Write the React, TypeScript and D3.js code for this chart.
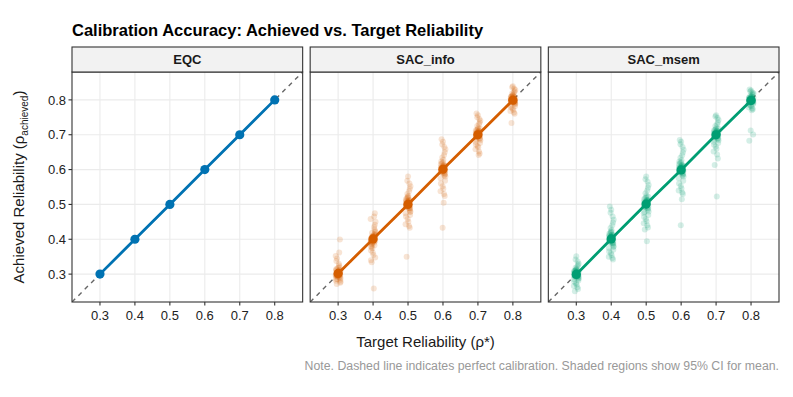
import React, { useEffect, useRef } from 'react'
import * as d3 from 'd3'

// target reliabilities (x categories)
const targets = [0.3, 0.4, 0.5, 0.6, 0.7, 0.8]
const methods = ['EQC', 'SAC_info', 'SAC_msem']
const methodColors = ['#0072B2', '#D55E00', '#009E73']
const tickValues = [0.3, 0.4, 0.5, 0.6, 0.7, 0.8]

// mean achieved reliability per target
const eqcMean = [0.300, 0.400, 0.500, 0.600, 0.700, 0.800]
const infoMean = [0.302, 0.401, 0.500, 0.601, 0.700, 0.799]
const msemMean = [0.299, 0.401, 0.501, 0.599, 0.700, 0.798]

// horizontal jitter (shared by the replications)
const jitter = [0.002, -0.004, 0.006, -0.001, 0.003, -0.006, 0.005, -0.003, 0.000, 0.007, -0.005, 0.001, -0.007, 0.004, -0.002, 0.006, -0.004, 0.003, -0.006, 0.002, 0.005, -0.001, -0.005, 0.007, 0.001, -0.003, 0.004, -0.007, 0.006, -0.002, 0.003, -0.006, 0.000, 0.005, -0.004, 0.002, -0.001, 0.006, -0.005, 0.004, -0.003, 0.005, -0.006, 0.001, 0.004, -0.002, 0.007, -0.004, 0.002, -0.005, 0.003, -0.001]

// replication-level achieved reliability, SAC_info
const info03 = [0.300, 0.302, 0.298, 0.305, 0.296, 0.310, 0.293, 0.301, 0.307, 0.289, 0.315, 0.303, 0.297, 0.320, 0.285, 0.312, 0.299, 0.325, 0.281, 0.330, 0.304, 0.294, 0.338, 0.278, 0.308, 0.345, 0.291, 0.352, 0.275, 0.300, 0.362, 0.286, 0.318, 0.399, 0.272, 0.306, 0.296, 0.284, 0.313, 0.301, 0.298, 0.303, 0.295, 0.306, 0.301, 0.292, 0.309, 0.299, 0.304, 0.296, 0.311, 0.302]
const info04 = [0.400, 0.405, 0.395, 0.410, 0.390, 0.402, 0.415, 0.385, 0.398, 0.420, 0.380, 0.407, 0.393, 0.428, 0.374, 0.412, 0.388, 0.435, 0.368, 0.403, 0.442, 0.362, 0.397, 0.450, 0.355, 0.418, 0.383, 0.458, 0.348, 0.408, 0.465, 0.340, 0.392, 0.475, 0.334, 0.259, 0.401, 0.423, 0.377, 0.396, 0.399, 0.404, 0.394, 0.408, 0.401, 0.391, 0.411, 0.398, 0.405, 0.396, 0.413, 0.402]
const info05 = [0.500, 0.505, 0.495, 0.510, 0.490, 0.515, 0.485, 0.502, 0.520, 0.480, 0.498, 0.525, 0.475, 0.508, 0.530, 0.470, 0.493, 0.538, 0.465, 0.512, 0.545, 0.458, 0.503, 0.552, 0.450, 0.518, 0.560, 0.443, 0.488, 0.568, 0.438, 0.507, 0.580, 0.433, 0.350, 0.497, 0.522, 0.478, 0.511, 0.489, 0.499, 0.504, 0.494, 0.508, 0.501, 0.491, 0.511, 0.498, 0.505, 0.496, 0.513, 0.502]
const info06 = [0.600, 0.605, 0.595, 0.610, 0.590, 0.615, 0.585, 0.602, 0.620, 0.580, 0.598, 0.628, 0.575, 0.608, 0.635, 0.568, 0.593, 0.642, 0.560, 0.612, 0.650, 0.552, 0.603, 0.658, 0.545, 0.618, 0.665, 0.538, 0.588, 0.672, 0.530, 0.607, 0.680, 0.524, 0.687, 0.505, 0.433, 0.597, 0.623, 0.583, 0.599, 0.604, 0.594, 0.608, 0.601, 0.591, 0.611, 0.598, 0.605, 0.596, 0.613, 0.602]
const info07 = [0.700, 0.704, 0.696, 0.708, 0.692, 0.712, 0.688, 0.702, 0.716, 0.684, 0.698, 0.720, 0.680, 0.706, 0.725, 0.676, 0.694, 0.730, 0.672, 0.710, 0.735, 0.668, 0.703, 0.740, 0.664, 0.714, 0.745, 0.658, 0.690, 0.750, 0.652, 0.707, 0.756, 0.646, 0.761, 0.642, 0.699, 0.718, 0.686, 0.701, 0.699, 0.703, 0.695, 0.707, 0.701, 0.693, 0.709, 0.698, 0.704, 0.697, 0.711, 0.702]
const info08 = [0.800, 0.803, 0.797, 0.806, 0.794, 0.809, 0.791, 0.801, 0.812, 0.788, 0.799, 0.815, 0.785, 0.804, 0.818, 0.782, 0.796, 0.821, 0.779, 0.807, 0.824, 0.776, 0.802, 0.828, 0.772, 0.810, 0.832, 0.768, 0.793, 0.836, 0.764, 0.805, 0.839, 0.760, 0.734, 0.798, 0.813, 0.789, 0.808, 0.795, 0.799, 0.802, 0.796, 0.805, 0.801, 0.794, 0.807, 0.798, 0.803, 0.797, 0.809, 0.800]

// replication-level achieved reliability, SAC_msem
const msem03 = [0.300, 0.303, 0.297, 0.306, 0.294, 0.309, 0.291, 0.301, 0.312, 0.288, 0.298, 0.315, 0.285, 0.304, 0.318, 0.282, 0.296, 0.322, 0.278, 0.307, 0.326, 0.274, 0.302, 0.330, 0.270, 0.310, 0.336, 0.266, 0.293, 0.342, 0.262, 0.305, 0.351, 0.257, 0.251, 0.299, 0.313, 0.287, 0.308, 0.295, 0.298, 0.302, 0.295, 0.305, 0.300, 0.292, 0.307, 0.297, 0.303, 0.294, 0.309, 0.301]
const msem04 = [0.400, 0.405, 0.395, 0.410, 0.390, 0.415, 0.385, 0.402, 0.420, 0.380, 0.398, 0.426, 0.375, 0.408, 0.432, 0.370, 0.393, 0.440, 0.365, 0.412, 0.448, 0.360, 0.403, 0.456, 0.355, 0.418, 0.465, 0.350, 0.388, 0.476, 0.346, 0.407, 0.485, 0.342, 0.494, 0.397, 0.422, 0.378, 0.411, 0.389, 0.399, 0.404, 0.394, 0.408, 0.401, 0.391, 0.411, 0.398, 0.405, 0.396, 0.413, 0.402]
const msem05 = [0.500, 0.505, 0.495, 0.510, 0.490, 0.515, 0.485, 0.502, 0.520, 0.480, 0.498, 0.525, 0.475, 0.508, 0.532, 0.470, 0.493, 0.540, 0.464, 0.512, 0.548, 0.458, 0.503, 0.556, 0.452, 0.518, 0.565, 0.446, 0.488, 0.572, 0.440, 0.507, 0.580, 0.434, 0.428, 0.394, 0.497, 0.522, 0.478, 0.511, 0.499, 0.504, 0.494, 0.508, 0.501, 0.491, 0.511, 0.498, 0.505, 0.496, 0.513, 0.502]
const msem06 = [0.600, 0.605, 0.595, 0.610, 0.590, 0.615, 0.585, 0.602, 0.620, 0.580, 0.598, 0.627, 0.575, 0.608, 0.634, 0.568, 0.593, 0.641, 0.560, 0.612, 0.649, 0.553, 0.603, 0.657, 0.546, 0.618, 0.665, 0.540, 0.588, 0.673, 0.534, 0.607, 0.680, 0.530, 0.685, 0.515, 0.440, 0.597, 0.623, 0.583, 0.599, 0.604, 0.594, 0.608, 0.601, 0.591, 0.611, 0.598, 0.605, 0.596, 0.613, 0.602]
const msem07 = [0.700, 0.704, 0.696, 0.708, 0.692, 0.712, 0.688, 0.702, 0.716, 0.684, 0.698, 0.720, 0.680, 0.706, 0.725, 0.676, 0.694, 0.730, 0.671, 0.710, 0.736, 0.666, 0.703, 0.742, 0.660, 0.714, 0.748, 0.652, 0.690, 0.752, 0.643, 0.707, 0.756, 0.632, 0.613, 0.523, 0.699, 0.718, 0.686, 0.701, 0.699, 0.703, 0.695, 0.707, 0.701, 0.693, 0.709, 0.698, 0.704, 0.697, 0.711, 0.702]
const msem08 = [0.800, 0.802, 0.798, 0.804, 0.796, 0.806, 0.794, 0.801, 0.808, 0.792, 0.799, 0.810, 0.790, 0.803, 0.812, 0.788, 0.797, 0.814, 0.786, 0.805, 0.816, 0.784, 0.802, 0.818, 0.782, 0.807, 0.821, 0.779, 0.795, 0.824, 0.776, 0.804, 0.827, 0.773, 0.830, 0.770, 0.712, 0.701, 0.683, 0.800, 0.799, 0.802, 0.796, 0.805, 0.801, 0.794, 0.807, 0.798, 0.803, 0.797, 0.809, 0.800]

const means = [eqcMean, infoMean, msemMean]
const reps = [[], [info03, info04, info05, info06, info07, info08], [msem03, msem04, msem05, msem06, msem07, msem08]]

const width = 793
const height = 397

const App = () => {
  const chartRef = useRef(null)

  useEffect(() => {
    document.body.style.margin = '0'
    const font = '"Liberation Sans", Arial, Helvetica, sans-serif'
    const left = 72
    const right = 779
    const gap = 7.5
    const stripTop = 47
    const panelTop = 72
    const panelBottom = 302
    const panelW = (right - left - 2 * gap) / 3

    const svg = d3
      .select(chartRef.current)
      .append('svg')
      .attr('width', width)
      .attr('height', height)
      .style('display', 'block')
      .style('font-family', font)

    svg.append('rect').attr('width', width).attr('height', height).attr('fill', '#fff')

    const y = d3.scaleLinear().domain([0.22, 0.88]).range([panelBottom, panelTop])

    methods.forEach((m, k) => {
      const x0 = left + k * (panelW + gap)
      const x = d3.scaleLinear().domain([0.22, 0.88]).range([x0, x0 + panelW])
      const g = svg.append('g')
      const clipId = `clip-${k}`
      g.append('clipPath').attr('id', clipId)
        .append('rect').attr('x', x0).attr('y', panelTop).attr('width', panelW).attr('height', panelBottom - panelTop)

      // grid
      g.selectAll('.gx').data(tickValues).enter().append('line')
        .attr('x1', (d) => x(d)).attr('x2', (d) => x(d))
        .attr('y1', panelTop).attr('y2', panelBottom)
        .attr('stroke', '#EBEBEB').attr('stroke-width', 1.1)
      g.selectAll('.gy').data(tickValues).enter().append('line')
        .attr('y1', (d) => y(d)).attr('y2', (d) => y(d))
        .attr('x1', x0).attr('x2', x0 + panelW)
        .attr('stroke', '#EBEBEB').attr('stroke-width', 1.1)

      const inner = g.append('g').attr('clip-path', `url(#${clipId})`)

      // perfect calibration
      inner.append('line')
        .attr('x1', x(0.22)).attr('y1', y(0.22))
        .attr('x2', x(0.88)).attr('y2', y(0.88))
        .attr('stroke', '#666').attr('stroke-width', 1.4).attr('stroke-dasharray', '4.5,4.5')

      // replications
      const pts = []
      reps[k].forEach((arr, ti) => {
        arr.forEach((v, j) => pts.push([targets[ti] + jitter[j], v]))
      })
      inner.selectAll('.rep').data(pts).enter().append('circle')
        .attr('cx', (d) => x(d[0])).attr('cy', (d) => y(d[1]))
        .attr('r', 3)
        .attr('fill', methodColors[k]).attr('fill-opacity', 0.17)

      const line = d3.line().x((d) => x(d[0])).y((d) => y(d[1]))
      const meanPts = targets.map((t, i) => [t, means[k][i]])
      inner.append('path').attr('d', line(meanPts))
        .attr('fill', 'none').attr('stroke', methodColors[k]).attr('stroke-width', 2.8)
      inner.selectAll('.mean').data(meanPts).enter().append('circle')
        .attr('cx', (d) => x(d[0])).attr('cy', (d) => y(d[1]))
        .attr('r', 4.6).attr('fill', methodColors[k])

      // border
      g.append('rect').attr('x', x0).attr('y', panelTop).attr('width', panelW).attr('height', panelBottom - panelTop)
        .attr('fill', 'none').attr('stroke', '#333').attr('stroke-width', 1.1)

      // strip
      g.append('rect').attr('x', x0).attr('y', stripTop).attr('width', panelW).attr('height', panelTop - stripTop)
        .attr('fill', '#F2F2F2').attr('stroke', '#333').attr('stroke-width', 1.1)
      g.append('text').attr('x', x0 + panelW / 2).attr('y', (stripTop + panelTop) / 2)
        .attr('dy', '0.36em').attr('text-anchor', 'middle')
        .attr('font-size', 13).attr('font-weight', 'bold').attr('fill', '#1a1a1a').text(m)

      // x axis
      g.selectAll('.xt').data(tickValues).enter().append('line')
        .attr('x1', (d) => x(d)).attr('x2', (d) => x(d))
        .attr('y1', panelBottom).attr('y2', panelBottom + 3.5)
        .attr('stroke', '#333').attr('stroke-width', 1.1)
      g.selectAll('.xl').data(tickValues).enter().append('text')
        .attr('x', (d) => x(d)).attr('y', panelBottom + 18)
        .attr('text-anchor', 'middle').attr('font-size', 13).attr('fill', '#222')
        .text((d) => d3.format('.1f')(d))

      if (k === 0) {
        g.selectAll('.yt').data(tickValues).enter().append('line')
          .attr('y1', (d) => y(d)).attr('y2', (d) => y(d))
          .attr('x1', x0 - 3.5).attr('x2', x0)
          .attr('stroke', '#333').attr('stroke-width', 1.1)
        g.selectAll('.yl').data(tickValues).enter().append('text')
          .attr('x', x0 - 6).attr('y', (d) => y(d)).attr('dy', '0.36em')
          .attr('text-anchor', 'end').attr('font-size', 13).attr('fill', '#222')
          .text((d) => d3.format('.1f')(d))
      }
    })

    // title
    svg.append('text').attr('x', left).attr('y', 36)
      .attr('font-size', 16.5).attr('font-weight', 'bold').attr('fill', '#000')
      .text('Calibration Accuracy: Achieved vs. Target Reliability')

    // axis titles
    svg.append('text').attr('x', (left + right) / 2).attr('y', 347)
      .attr('text-anchor', 'middle').attr('font-size', 15).attr('fill', '#1a1a1a')
      .text('Target Reliability (ρ*)')

    const yt = svg.append('text')
      .attr('transform', `translate(24,${(panelTop + panelBottom) / 2}) rotate(-90)`)
      .attr('text-anchor', 'middle').attr('font-size', 15).attr('fill', '#1a1a1a')
    yt.append('tspan').text('Achieved Reliability (ρ')
    yt.append('tspan').attr('font-size', 10).attr('dy', 3.5).text('achieved')
    yt.append('tspan').attr('dy', -3.5).text(')')

    // note
    svg.append('text').attr('x', right).attr('y', 370)
      .attr('text-anchor', 'end').attr('font-size', 12.3).attr('fill', '#999')
      .text('Note. Dashed line indicates perfect calibration. Shaded regions show 95% CI for mean.')

    return () => {
      d3.select(chartRef.current).selectAll('*').remove()
    }
  }, [])

  return <div ref={chartRef}></div>
}

export default App
